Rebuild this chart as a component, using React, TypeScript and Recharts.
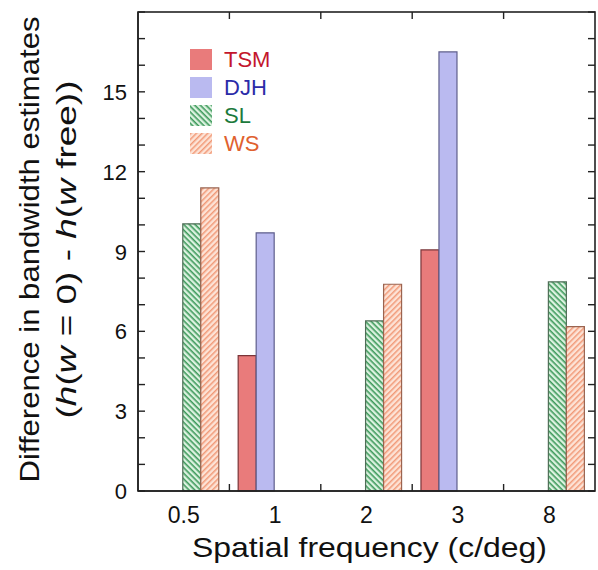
import React from 'react';
import { BarChart, Bar, XAxis, YAxis } from 'recharts';

const categories = ['0.5', '1', '2', '3', '8'];
const tsm = [null, 5.09, null, 9.06, null];
const djh = [null, 9.7, null, 16.5, null];
const sl = [10.04, null, 6.39, null, 7.86];
const ws = [11.39, null, 7.77, null, 6.18];
const yTicks = [0, 1, 2, 3, 4, 5, 6, 7, 8, 9, 10, 11, 12, 13, 14, 15, 16, 17, 18];
const yLabels = [0, 3, 6, 9, 12, 15];
const Y_MAX = 18;

const W = 598;
const H = 570;
const M = { top: 12, right: 3, bottom: 19, left: 78 };
const Y_AXIS_W = 60;
const X_AXIS_H = 60;
const PLOT_LEFT = M.left + Y_AXIS_W;
const PLOT_W = W - PLOT_LEFT - M.right;
const PLOT_H = H - M.top - M.bottom - X_AXIS_H;
const PLOT_RIGHT = PLOT_LEFT + PLOT_W;
const PLOT_BOTTOM = M.top + PLOT_H;
const BAND = PLOT_W / categories.length;
const FONT = '"Liberation Sans", Arial, Helvetica, sans-serif';
const AXIS = '#222';
const TICK = 7;

const data = categories.map((name, i) => ({ name, TSM: tsm[i], DJH: djh[i], SL: sl[i], WS: ws[i] }));

const series = [
  { key: 'TSM', fill: '#e97b7b', stroke: '#7a3438', text: '#c3162c' },
  { key: 'DJH', fill: '#babaf0', stroke: '#5f5f8c', text: '#2b2ba8' },
  { key: 'SL', fill: 'url(#slHatch)', stroke: '#4f6e57', text: '#1c7a3c' },
  { key: 'WS', fill: 'url(#wsHatch)', stroke: '#9a6450', text: '#e0612f' },
];

const LeftTick = ({ y, payload }: any) =>
  yLabels.includes(payload.value) ? (
    <text x={PLOT_LEFT - 11} y={y} dy={8} textAnchor="end" fontSize={22} fontFamily={FONT} fill="#111">
      {payload.value}
    </text>
  ) : (
    <g />
  );

const BottomTick = ({ x, payload }: any) => (
  <text x={x} y={PLOT_BOTTOM + 32} textAnchor="middle" fontSize={23} fontFamily={FONT} fill="#111">
    {payload.value}
  </text>
);

// box frame and inward ticks, drawn over the chart
const Frame = () => {
  const yPos = (v: number) => PLOT_BOTTOM - (v / Y_MAX) * PLOT_H;
  const edges = categories.slice(1).map((_, i) => PLOT_LEFT + BAND * (i + 1));
  return (
    <svg
      width={W}
      height={H}
      style={{ position: 'absolute', left: 0, top: 0, pointerEvents: 'none', zIndex: 5 }}
    >
      <rect x={PLOT_LEFT} y={M.top} width={PLOT_W} height={PLOT_H} fill="none" stroke={AXIS} strokeWidth={1.6} />
      <g stroke={AXIS} strokeWidth={1.4}>
        {yTicks.map((v) => (
          <g key={v}>
            <line x1={PLOT_LEFT} x2={PLOT_LEFT + TICK} y1={yPos(v)} y2={yPos(v)} />
            <line x1={PLOT_RIGHT} x2={PLOT_RIGHT - TICK} y1={yPos(v)} y2={yPos(v)} />
          </g>
        ))}
        {edges.map((x) => (
          <g key={x}>
            <line x1={x} x2={x} y1={PLOT_BOTTOM} y2={PLOT_BOTTOM - TICK} />
            <line x1={x} x2={x} y1={M.top} y2={M.top + TICK} />
          </g>
        ))}
      </g>
    </svg>
  );
};

const YLabel = ({ viewBox }: any) => {
  const cy = viewBox.y + viewBox.height / 2;
  return (
    <g fontFamily={FONT} fontSize={28} fill="#111">
      <text
        transform={`translate(39, ${cy - 2}) rotate(-90)`}
        textAnchor="middle"
        textLength={466}
        lengthAdjust="spacingAndGlyphs"
      >
        Difference in bandwidth estimates
      </text>
      <text
        transform={`translate(76, ${cy - 2}) rotate(-90)`}
        textAnchor="middle"
        textLength={338}
        lengthAdjust="spacingAndGlyphs"
      >
        (<tspan fontStyle="italic">h</tspan>(<tspan fontStyle="italic">w</tspan> = 0) -{' '}
        <tspan fontStyle="italic">h</tspan>(<tspan fontStyle="italic">w</tspan> free))
      </text>
    </g>
  );
};

const XLabel = ({ viewBox }: any) => (
  <text
    x={viewBox.x + viewBox.width / 2 + 3}
    y={PLOT_BOTTOM + 66}
    textAnchor="middle"
    fontFamily={FONT}
    fontSize={28}
    fill="#111"
    textLength={355}
    lengthAdjust="spacingAndGlyphs"
  >
    Spatial frequency (c/deg)
  </text>
);

const Patterns = () => (
  <svg width={0} height={0} style={{ position: 'absolute' }}>
    <defs>
      <pattern id="slHatch" width={4} height={4} patternUnits="userSpaceOnUse" patternTransform="rotate(45)">
        <rect width={4} height={4} fill="#dcf2e0" />
        <rect width={4} height={1.6} fill="#3f9a5c" />
      </pattern>
      <pattern id="wsHatch" width={4} height={4} patternUnits="userSpaceOnUse" patternTransform="rotate(-45)">
        <rect width={4} height={4} fill="#fde3d6" />
        <rect width={4} height={1.5} fill="#f19a78" />
      </pattern>
    </defs>
  </svg>
);

const LegendBox = () => (
  <div style={{ position: 'absolute', left: 190, top: 45, fontFamily: FONT }}>
    {series.map((s) => (
      <div key={s.key} style={{ display: 'flex', alignItems: 'center', height: 28 }}>
        <svg width={22} height={21} style={{ marginRight: 12 }}>
          <rect width={22} height={21} fill={s.fill} />
        </svg>
        <span style={{ color: s.text, fontSize: 22, lineHeight: '21px' }}>{s.key}</span>
      </div>
    ))}
  </div>
);

export default function App() {
  return (
    <div style={{ position: 'absolute', left: 0, top: 0, width: W, height: H, background: '#fff' }}>
      <Patterns />
      <BarChart width={W} height={H} data={data} margin={M} barGap={0} barCategoryGap="9.6%">
        <XAxis
          dataKey="name"
          height={X_AXIS_H}
          interval={0}
          tick={<BottomTick />}
          tickLine={false}
          axisLine={{ stroke: AXIS, strokeWidth: 1.5 }}
          label={<XLabel />}
        />
        <YAxis
          width={Y_AXIS_W}
          domain={[0, Y_MAX]}
          ticks={yTicks}
          interval={0}
          tick={<LeftTick />}
          tickLine={false}
          axisLine={{ stroke: AXIS, strokeWidth: 1.5 }}
          label={<YLabel />}
        />
        {series.map((s) => (
          <Bar
            key={s.key}
            dataKey={s.key}
            fill={s.fill}
            stroke={s.stroke}
            strokeWidth={1.2}
            isAnimationActive={false}
          />
        ))}
      </BarChart>
      <Frame />
      <LegendBox />
    </div>
  );
}
